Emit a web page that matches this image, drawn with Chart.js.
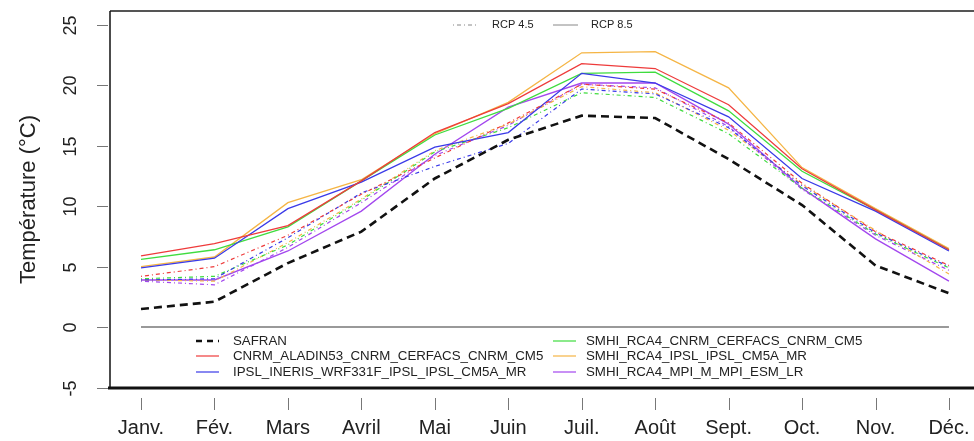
<!DOCTYPE html>
<html>
<head>
<meta charset="utf-8">
<script src="https://cdn.jsdelivr.net/npm/chart.js@4"></script>
<style>
  html, body { margin: 0; padding: 0; background: #fff; }
</style>
</head>
<body>
<canvas id="tempChart" width="974" height="441"></canvas>
<script>
const months = ['Janv.', 'Fév.', 'Mars', 'Avril', 'Mai', 'Juin', 'Juil.', 'Août', 'Sept.', 'Oct.', 'Nov.', 'Déc.'];
const yTicks = [-5, 0, 5, 10, 15, 20, 25];

// observed reference
const safran = [1.5, 2.1, 5.3, 7.9, 12.3, 15.5, 17.5, 17.3, 13.9, 10.1, 5.1, 2.8];

// regional models, monthly mean temperature per scenario
const models = [
  'CNRM_ALADIN53_CNRM_CERFACS_CNRM_CM5',
  'IPSL_INERIS_WRF331F_IPSL_IPSL_CM5A_MR',
  'SMHI_RCA4_CNRM_CERFACS_CNRM_CM5',
  'SMHI_RCA4_IPSL_IPSL_CM5A_MR',
  'SMHI_RCA4_MPI_M_MPI_ESM_LR'
];
const modelColors = ['#ee3b3b', '#3a3ae8', '#3fdc3f', '#f5b545', '#a347ee'];

const rcp45 = [
  [4.2, 5.0, 7.6, 11.0, 14.0, 16.9, 20.1, 19.7, 16.9, 11.9, 7.9, 5.1],
  [3.9, 4.0, 7.4, 11.1, 13.3, 15.2, 19.7, 19.3, 16.5, 11.7, 7.8, 5.0],
  [4.0, 4.2, 6.8, 10.5, 14.5, 16.5, 19.4, 19.0, 16.0, 11.5, 7.7, 4.9],
  [3.9, 3.8, 7.0, 10.6, 14.6, 16.8, 19.9, 19.4, 16.3, 11.8, 8.0, 4.4],
  [3.8, 3.5, 6.6, 10.3, 14.2, 16.7, 20.1, 19.8, 16.6, 11.4, 7.6, 4.7]
];
const rcp85 = [
  [5.9, 6.9, 8.4, 12.1, 16.1, 18.5, 21.8, 21.4, 18.4, 13.1, 9.7, 6.4],
  [4.9, 5.7, 9.8, 12.0, 14.9, 16.1, 21.0, 20.2, 17.4, 12.3, 9.6, 6.3],
  [5.6, 6.4, 8.3, 12.1, 15.9, 18.1, 21.0, 21.1, 17.9, 12.9, 9.7, 6.4],
  [5.0, 5.8, 10.3, 12.2, 16.0, 18.6, 22.7, 22.8, 19.8, 13.2, 9.8, 6.5],
  [3.9, 3.9, 6.3, 9.6, 14.3, 18.2, 20.2, 20.2, 16.8, 11.5, 7.3, 3.8]
];
const zeroLine = months.map(() => 0);

const FONT = "'Liberation Sans', Arial, sans-serif";
const DOTDASH = [1, 3, 4, 3];

function pts(arr) {
  return arr.map((v, i) => ({ x: i, y: v }));
}

const datasets = [];
datasets.push({ data: pts(safran), borderColor: '#111', borderWidth: 2.6, borderDash: [8, 5] });
models.forEach((m, k) => {
  datasets.push({ data: pts(rcp85[k]), borderColor: modelColors[k], borderWidth: 1.3 });
  datasets.push({ data: pts(rcp45[k]), borderColor: modelColors[k], borderWidth: 1.2, borderDash: DOTDASH });
});
datasets.push({ data: pts(zeroLine), borderColor: '#999', borderWidth: 2 });

function seg(ctx, x1, y1, x2, y2) {
  ctx.beginPath();
  ctx.moveTo(x1, y1);
  ctx.lineTo(x2, y2);
  ctx.stroke();
}

// box, tick marks, y labels and the two legends (R-style base graphics look)
const frame = {
  id: 'frame',
  afterDraw(chart) {
    const ctx = chart.ctx;
    const a = chart.chartArea;
    const x = chart.scales.x, y = chart.scales.y;
    ctx.save();

    // box
    ctx.strokeStyle = '#555';
    ctx.lineWidth = 2;
    seg(ctx, a.left, a.top, chart.width, a.top);
    ctx.strokeStyle = '#111';
    ctx.lineWidth = 1.5;
    seg(ctx, a.left, a.top, a.left, a.bottom);
    ctx.lineWidth = 3;
    seg(ctx, a.left - 2, a.bottom, chart.width, a.bottom);

    // y ticks
    ctx.strokeStyle = '#777';
    ctx.lineWidth = 1;
    ctx.fillStyle = '#222';
    ctx.font = '18px ' + FONT;
    ctx.textAlign = 'center';
    ctx.textBaseline = 'middle';
    yTicks.forEach(v => {
      const py = Math.round(y.getPixelForValue(v)) + 0.5;
      seg(ctx, a.left - 13, py, a.left - 2, py);
      ctx.save();
      ctx.translate(a.left - 39, py);
      ctx.rotate(-Math.PI / 2);
      ctx.fillText(String(v), 0, 0);
      ctx.restore();
    });

    // x ticks
    months.forEach((m, i) => {
      const px = Math.round(x.getPixelForValue(i)) + 0.5;
      seg(ctx, px, a.bottom + 10, px, a.bottom + 22);
    });

    // scenario legend
    ctx.font = '11px ' + FONT;
    ctx.textAlign = 'left';
    ctx.strokeStyle = '#888';
    ctx.lineWidth = 1;
    ctx.setLineDash(DOTDASH);
    seg(ctx, 453, 25, 477, 25);
    ctx.setLineDash([]);
    seg(ctx, 553, 25, 578, 25);
    ctx.fillText('RCP 4.5', 492, 25);
    ctx.fillText('RCP 8.5', 591, 25);

    // series legend
    const entries = [{ name: 'SAFRAN', color: '#111', dash: [6, 5], w: 2.4 }]
      .concat(models.map((m, k) => ({ name: m, color: modelColors[k], dash: [], w: 1.2 })));
    const rows = [341, 356, 372];
    ctx.font = '13.3px ' + FONT;
    entries.forEach((e, k) => {
      const col = Math.floor(k / 3), row = k % 3;
      const lx = col === 0 ? 196 : 553;
      const tx = col === 0 ? 233 : 586;
      const ly = rows[row];
      ctx.strokeStyle = e.color;
      ctx.lineWidth = e.w;
      ctx.setLineDash(e.dash);
      seg(ctx, lx, ly, lx + 23, ly);
      ctx.setLineDash([]);
      ctx.fillText(e.name, tx, ly);
    });
    ctx.restore();
  }
};

const ctx = document.getElementById('tempChart').getContext('2d');
new Chart(ctx, {
  type: 'line',
  data: { datasets: datasets },
  options: {
    responsive: false,
    animation: false,
    events: [],
    layout: { padding: { top: 11, right: 0, left: 0, bottom: 0 } },
    elements: { point: { radius: 0 }, line: { tension: 0, fill: false } },
    plugins: { legend: { display: false }, tooltip: { enabled: false } },
    scales: {
      x: {
        type: 'linear',
        min: -0.422,
        max: 11.341,
        border: { display: false },
        grid: { display: false, drawTicks: false },
        afterBuildTicks: s => { s.ticks = months.map((m, i) => ({ value: i })); },
        afterFit: s => { s.height = 53; s.paddingLeft = 0; s.paddingRight = 0; },
        ticks: {
          autoSkip: false,
          maxRotation: 0,
          padding: 28,
          color: '#222',
          font: { family: FONT, size: 20 },
          callback: v => months[v]
        }
      },
      y: {
        min: -5.04,
        max: 26.16,
        border: { display: false },
        grid: { display: false, drawTicks: false },
        afterBuildTicks: s => { s.ticks = yTicks.map(v => ({ value: v })); },
        afterFit: s => { s.width = 110; s.paddingTop = 0; s.paddingBottom = 0; },
        ticks: { display: false },
        title: {
          display: true,
          text: 'Température (°C)',
          color: '#222',
          font: { family: FONT, size: 22 },
          padding: { top: 16, bottom: 0 }
        }
      }
    }
  },
  plugins: [frame]
});
</script>
</body>
</html>
